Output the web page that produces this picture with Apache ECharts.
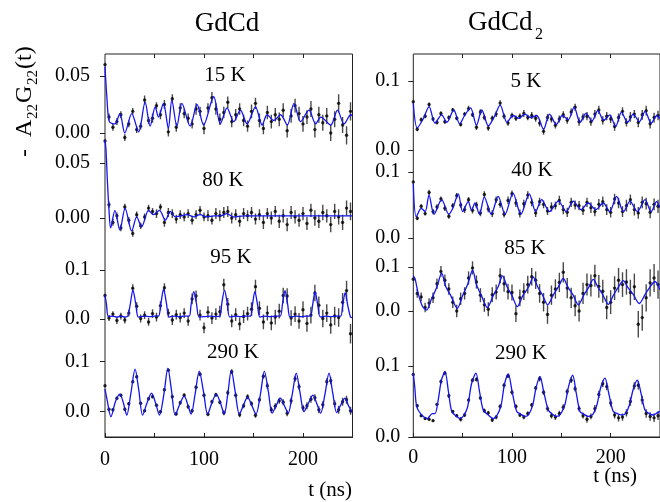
<!DOCTYPE html>
<html><head><meta charset="utf-8">
<script src="https://cdn.jsdelivr.net/npm/echarts@6/dist/echarts.min.js"></script>
<style>html,body{margin:0;padding:0;background:#fff}#c{width:660px;height:502px}</style>
</head><body><div id="c"></div><script>
// time channels (ns) of the data points
const tPts = [0,4,8,12,16,20,24,28,32,36,40,44,48,52,56,60,64,68,72,76,80,84,88,92,96,100,104,108,112,116,120,124,128,132,136,140,144,148,152,156,160,164,168,172,176,180,184,188,192,196,200,204,208,212,216,220,224,228,232,236,240,244,248];
const xTickLabels = [0,100,200];

// ---- GdCd 15 K ----
const fit15K = [[0,0.058],[2,0.03],[4.4,0.010],[10,0.008],[15,0.017],[20,0.000],[27,0.017],[34,0.001],[40.5,0.027],[45.6,0.006],[50.7,0.023],[54,0.014],[59,0.026],[64,0.004],[67.5,0.029],[72.6,0.006],[77.7,0.026],[86,0.006],[93,0.025],[99.6,0.007],[109.8,0.032],[116.5,0.008],[123.3,0.022],[130,0.010],[136.8,0.020],[143.5,0.008],[152,0.023],[158.7,0.007],[163.8,0.016],[170.6,0.011],[177.3,0.016],[184.1,0.007],[190.9,0.026],[197.6,0.010],[206,0.020],[212.8,0.008],[218,0.014],[228,0.007],[234.8,0.020],[241.5,0.008],[248.3,0.016],[250,0.015]];
const val15K = [0.060,0.014,0.005,0.010,0.016,-0.004,0.008,0.019,0.003,0.006,0.029,0.011,0.013,0.024,0.016,0.025,0.001,0.030,0.005,0.022,0.017,0.013,0.008,0.021,0.019,0.004,0.022,0.031,0.021,0.012,0.018,0.027,0.010,0.016,0.021,0.011,0.006,0.019,0.026,0.011,0.004,0.018,0.010,0.016,0.012,0.020,0.002,0.015,0.024,0.017,0.008,0.014,0.021,0.003,0.016,0.009,0.015,0.000,0.012,0.026,0.007,-0.002,0.019];
const err15K = [0.002,0.003,0.003,0.003,0.003,0.003,0.003,0.003,0.003,0.003,0.004,0.003,0.004,0.003,0.004,0.004,0.004,0.004,0.004,0.004,0.004,0.004,0.004,0.005,0.004,0.005,0.004,0.005,0.005,0.005,0.005,0.005,0.005,0.005,0.005,0.005,0.005,0.006,0.005,0.006,0.005,0.006,0.006,0.006,0.006,0.006,0.006,0.006,0.006,0.006,0.007,0.006,0.007,0.007,0.007,0.007,0.007,0.007,0.007,0.008,0.007,0.008,0.008];

// ---- GdCd 80 K ----
const fit80K = [[0,0.071],[1,0.062],[2.4,0.034],[4,0.008],[5.7,-0.009],[10,0.007],[15,-0.011],[20.3,0.009],[27,-0.012],[32,0.001],[37,-0.008],[44,0.007],[49,0.003],[55,0.007],[61,-0.002],[66,0.006],[71,0.001],[77,0.002],[83,0.003],[90,0.001],[96,0.003],[103,0.001],[110,0.002],[117,0.002],[123,0.004],[130,0.001],[140,0.002],[160,0.002],[200,0.002],[250,0.002]];
const val80K = [0.070,0.012,-0.004,0.002,-0.009,0.010,-0.002,-0.014,0.003,-0.007,0.001,0.009,0.006,0.004,0.010,-0.004,0.005,0.004,-0.001,0.003,0.001,0.004,-0.002,0.003,0.007,0.001,0.002,-0.002,0.004,0.002,0.005,0.006,0.000,0.003,-0.003,0.004,0.002,0.005,-0.001,0.003,-0.004,0.004,0.000,0.006,-0.003,0.002,-0.006,0.005,0.001,-0.002,0.004,-0.005,0.007,0.000,-0.003,0.005,0.002,-0.006,0.006,0.001,-0.004,0.009,0.006];
const err80K = [0.002,0.003,0.003,0.003,0.003,0.003,0.003,0.003,0.003,0.003,0.003,0.003,0.003,0.004,0.003,0.004,0.004,0.004,0.004,0.004,0.004,0.004,0.004,0.004,0.004,0.004,0.005,0.004,0.005,0.005,0.005,0.005,0.005,0.005,0.005,0.005,0.005,0.005,0.005,0.005,0.006,0.005,0.006,0.005,0.006,0.006,0.006,0.006,0.006,0.006,0.006,0.006,0.006,0.007,0.006,0.007,0.006,0.007,0.007,0.007,0.007,0.007,0.008];

// ---- GdCd 95 K ----
const fit95K = [[0,0.049],[1.5,0.030],[3.4,0.005],[8,0.006],[12,0.004],[16,0.006],[20,0.004],[23,0.006],[25.5,0.030],[28.2,0.059],[31,0.032],[33.8,0.004],[40,0.006],[45,0.005],[50,0.006],[54,0.006],[56.5,0.032],[59.2,0.061],[62,0.033],[64.8,0.004],[70,0.006],[75,0.005],[80,0.006],[85,0.006],[87,0.030],[89.7,0.056],[92.5,0.030],[95,0.004],[101,0.005],[106,0.006],[111,0.005],[116,0.006],[118,0.032],[120.7,0.059],[123.5,0.032],[126,0.004],[132,0.006],[137,0.005],[142,0.006],[147,0.006],[149,0.030],[151.4,0.056],[154,0.030],[156.5,0.004],[162,0.006],[167,0.005],[172,0.006],[177,0.006],[179.3,0.031],[181.8,0.058],[184.5,0.030],[187,0.004],[193,0.006],[198,0.005],[203,0.006],[207.5,0.006],[209.8,0.030],[212.2,0.056],[214.8,0.030],[217.5,0.004],[223,0.006],[228,0.005],[233,0.006],[238,0.006],[240.2,0.029],[242.6,0.054],[245.2,0.028],[248,0.004],[250,0.003]];
const val95K = [0.048,0.002,0.010,-0.003,0.006,-0.002,0.012,0.063,0.026,0.001,0.008,-0.006,0.011,0.004,0.027,0.064,0.012,-0.002,0.009,0.003,0.012,-0.004,0.041,0.047,0.008,-0.018,0.014,0.002,0.010,0.015,0.070,0.030,-0.004,0.009,-0.010,0.005,0.011,0.020,0.066,0.022,-0.006,0.012,-0.008,0.004,0.016,0.048,0.047,0.002,0.010,-0.004,0.019,-0.009,0.008,0.053,0.028,0.001,0.012,-0.012,0.006,0.003,0.034,0.058,-0.030];
const err95K = [0.004,0.006,0.006,0.007,0.007,0.007,0.007,0.008,0.008,0.008,0.008,0.008,0.009,0.009,0.009,0.009,0.009,0.010,0.010,0.010,0.010,0.010,0.011,0.011,0.011,0.011,0.012,0.012,0.012,0.012,0.012,0.013,0.013,0.013,0.013,0.013,0.014,0.014,0.014,0.014,0.015,0.015,0.015,0.015,0.015,0.016,0.016,0.016,0.016,0.016,0.017,0.017,0.017,0.017,0.018,0.018,0.018,0.018,0.019,0.019,0.019,0.020,0.020];

// ---- GdCd 290 K ----
const fit290a = [[0,0.045],[2,0.025],[6,-0.010],[10.5,0.020],[15,0.035],[18.5,0.018],[22,-0.007],[26,0.035],[30.4,0.085],[34,0.045],[38,-0.007],[42.5,0.018],[47,0.037],[51,0.018],[55,-0.007],[59.5,0.035],[63.5,0.087],[67,0.045],[70.9,-0.007],[75.5,0.015],[80,0.031],[83.5,0.015],[87,-0.005],[91,0.035],[95.2,0.081],[99.5,0.040],[103.6,-0.005],[108,0.018],[112.4,0.035],[116.5,0.018],[120.5,-0.005],[124,0.035],[127.6,0.083],[131.5,0.040],[135.7,-0.005],[140,0.014],[144,0.029],[148,0.014],[152.5,-0.005],[157,0.035],[161,0.081],[165,0.040],[168.8,-0.003],[173,0.013],[177.2,0.027],[181,0.013],[185,-0.003],[189,0.033],[193.2,0.077],[197,0.038],[201,0.000],[205.5,0.017],[210,0.033],[214,0.016],[217.8,-0.003],[222,0.033],[226.3,0.077],[230,0.038],[234,-0.002],[238,0.013],[242.4,0.027],[246,0.012],[250,-0.003]];
const val290a = [0.052,0.005,0.004,0.027,0.033,0.005,0.016,0.060,0.070,0.017,0.002,0.026,0.030,0.013,0.000,0.044,0.083,0.030,-0.004,0.018,0.033,0.010,0.002,0.049,0.075,0.033,-0.005,0.020,0.034,0.019,-0.002,0.038,0.080,0.033,-0.006,0.012,0.030,0.016,-0.007,0.024,0.071,0.052,0.004,0.011,0.022,0.019,-0.003,0.022,0.066,0.050,0.008,0.012,0.025,0.028,0.004,0.014,0.060,0.062,0.016,0.004,0.020,0.024,0.002];
const err290a = [0.002,0.003,0.003,0.003,0.003,0.003,0.003,0.003,0.003,0.003,0.003,0.003,0.003,0.003,0.003,0.003,0.003,0.004,0.004,0.004,0.004,0.004,0.004,0.004,0.004,0.004,0.004,0.004,0.004,0.004,0.005,0.005,0.005,0.005,0.005,0.005,0.005,0.005,0.005,0.005,0.005,0.006,0.006,0.006,0.006,0.006,0.006,0.006,0.006,0.006,0.006,0.007,0.007,0.007,0.007,0.007,0.007,0.007,0.007,0.008,0.008,0.008,0.008];

// ---- GdCd2 5 K ----
const fit5K = [[0,0.068],[4,0.032],[10,0.045],[16,0.063],[22,0.039],[28.7,0.051],[34,0.040],[41,0.058],[47,0.038],[52,0.050],[58,0.061],[64,0.036],[69.5,0.058],[76,0.035],[82,0.048],[88,0.065],[95,0.040],[101,0.050],[107,0.046],[113,0.052],[119,0.047],[125,0.050],[132,0.030],[138,0.052],[145,0.037],[151,0.050],[157,0.044],[163,0.062],[169,0.040],[175,0.053],[181,0.042],[187,0.057],[193,0.043],[199,0.051],[205,0.034],[211,0.055],[217,0.040],[223,0.052],[229,0.041],[235,0.056],[241,0.039],[247,0.050],[250,0.045]];
const val5K = [0.070,0.030,0.044,0.049,0.066,0.045,0.040,0.053,0.041,0.047,0.058,0.046,0.037,0.052,0.060,0.051,0.033,0.055,0.047,0.032,0.046,0.052,0.068,0.049,0.039,0.050,0.046,0.049,0.053,0.047,0.050,0.046,0.039,0.027,0.047,0.045,0.036,0.045,0.051,0.043,0.055,0.062,0.041,0.048,0.049,0.041,0.052,0.058,0.043,0.049,0.045,0.034,0.047,0.056,0.040,0.048,0.052,0.040,0.051,0.057,0.038,0.047,0.050];
const err5K = [0.002,0.003,0.003,0.003,0.003,0.003,0.003,0.003,0.003,0.003,0.003,0.003,0.003,0.003,0.004,0.003,0.004,0.004,0.004,0.004,0.004,0.004,0.004,0.004,0.004,0.004,0.004,0.004,0.005,0.004,0.005,0.005,0.005,0.005,0.005,0.005,0.005,0.005,0.005,0.005,0.005,0.005,0.006,0.005,0.006,0.006,0.006,0.006,0.006,0.006,0.006,0.006,0.006,0.006,0.006,0.007,0.006,0.007,0.007,0.007,0.007,0.007,0.007];

// ---- GdCd2 40 K ----
const fit40K = [[0,0.083],[3,0.032],[8,0.045],[12,0.040],[15.9,0.065],[21,0.036],[28.7,0.058],[36,0.036],[40,0.045],[45.6,0.067],[50,0.040],[55.7,0.055],[59,0.042],[62.5,0.053],[67,0.036],[72,0.062],[79,0.036],[86,0.063],[93,0.036],[101,0.068],[109,0.036],[117.5,0.067],[124,0.040],[130,0.058],[138,0.040],[147,0.056],[155,0.040],[162,0.056],[170,0.043],[177.3,0.053],[185,0.043],[192.5,0.053],[199,0.040],[206,0.063],[213,0.040],[219.6,0.056],[227,0.040],[234.8,0.058],[241,0.040],[246.6,0.055],[250,0.046]];
const val40K = [0.085,0.030,0.048,0.037,0.069,0.040,0.047,0.059,0.045,0.033,0.049,0.064,0.050,0.043,0.058,0.042,0.050,0.038,0.066,0.044,0.037,0.058,0.051,0.036,0.057,0.067,0.053,0.037,0.052,0.065,0.054,0.038,0.055,0.051,0.041,0.047,0.049,0.057,0.043,0.039,0.054,0.050,0.049,0.042,0.054,0.046,0.040,0.051,0.055,0.043,0.039,0.059,0.053,0.040,0.049,0.058,0.043,0.038,0.054,0.052,0.039,0.051,0.048];
const err40K = [0.003,0.003,0.003,0.003,0.004,0.004,0.004,0.004,0.004,0.004,0.004,0.004,0.004,0.005,0.004,0.005,0.005,0.005,0.005,0.005,0.005,0.005,0.005,0.005,0.006,0.005,0.006,0.006,0.006,0.006,0.006,0.006,0.006,0.006,0.006,0.007,0.006,0.007,0.007,0.007,0.007,0.007,0.007,0.007,0.007,0.008,0.007,0.008,0.008,0.008,0.008,0.008,0.008,0.008,0.009,0.008,0.009,0.009,0.009,0.009,0.009,0.009,0.010];

// ---- GdCd2 85 K ----
const fit85K = [[0,0.080],[1.7,0.074],[5,0.040],[9,0.012],[13.5,0.002],[18,0.025],[24,0.055],[28.7,0.086],[33,0.055],[38,0.035],[44.6,0.006],[50,0.035],[55,0.060],[60.1,0.093],[64,0.060],[69,0.035],[75,0.008],[81,0.035],[86,0.055],[90.5,0.080],[95,0.055],[100,0.035],[105.4,0.010],[111,0.035],[117,0.055],[121.6,0.077],[126,0.055],[131,0.036],[136.1,0.014],[142,0.037],[147,0.055],[152,0.074],[156.5,0.055],[162,0.036],[167.2,0.014],[173,0.037],[178,0.055],[182.4,0.072],[187,0.055],[192,0.037],[197.6,0.015],[203,0.037],[208,0.055],[212.8,0.069],[217,0.055],[223,0.037],[229,0.017],[235,0.038],[240,0.055],[244.9,0.067],[250,0.048]];
const val85K = [0.072,0.040,0.032,0.008,0.018,0.030,0.062,0.090,0.070,0.050,0.020,0.000,0.028,0.040,0.075,0.098,0.066,0.036,0.014,0.004,0.037,0.043,0.080,0.062,0.044,0.042,-0.006,0.030,0.044,0.060,0.078,0.070,0.040,0.020,-0.008,0.036,0.050,0.065,0.088,0.052,0.030,0.012,0.000,0.040,0.060,0.058,0.080,0.056,0.045,0.008,0.020,0.052,0.070,0.060,0.066,0.042,0.055,-0.030,-0.015,0.030,0.064,0.075,0.060];
const err85K = [0.008,0.010,0.010,0.011,0.011,0.012,0.012,0.012,0.013,0.013,0.013,0.014,0.014,0.014,0.015,0.015,0.015,0.016,0.016,0.016,0.017,0.017,0.017,0.018,0.018,0.018,0.019,0.019,0.019,0.020,0.020,0.020,0.021,0.021,0.021,0.022,0.022,0.022,0.023,0.023,0.023,0.024,0.024,0.024,0.025,0.025,0.025,0.026,0.026,0.027,0.027,0.027,0.028,0.028,0.029,0.029,0.030,0.030,0.030,0.031,0.031,0.032,0.032];

// ---- GdCd2 290 K ----
const fit290b = [[0,0.090],[1.5,0.070],[3.4,0.043],[7.4,0.033],[14.1,0.026],[19.2,0.033],[22,0.033],[25,0.050],[28.5,0.080],[32.1,0.092],[35.5,0.065],[38.9,0.036],[43,0.030],[47.3,0.026],[51,0.030],[55,0.042],[59,0.075],[63.5,0.090],[67,0.065],[70.9,0.038],[76,0.031],[81,0.026],[85,0.031],[89,0.045],[92.5,0.075],[96.3,0.089],[100,0.065],[104.8,0.036],[109,0.032],[113.3,0.029],[117,0.032],[121,0.045],[124.5,0.070],[128.4,0.085],[132,0.065],[136.8,0.038],[141,0.032],[145.2,0.029],[149,0.032],[153.5,0.045],[157.5,0.072],[161.5,0.087],[165,0.063],[168.9,0.036],[173,0.032],[177.3,0.029],[182,0.032],[186,0.045],[190,0.070],[194.2,0.083],[198,0.062],[202.6,0.036],[207,0.033],[211,0.031],[215,0.033],[219,0.045],[223,0.068],[227,0.080],[231,0.060],[234.8,0.038],[239,0.033],[243.2,0.031],[247,0.034],[250,0.036]];
const val290b = [0.088,0.044,0.030,0.026,0.025,0.023,0.046,0.078,0.090,0.058,0.036,0.030,0.025,0.031,0.052,0.080,0.081,0.055,0.037,0.034,0.024,0.028,0.043,0.073,0.086,0.063,0.043,0.031,0.028,0.033,0.045,0.069,0.082,0.063,0.040,0.030,0.028,0.033,0.042,0.064,0.080,0.068,0.040,0.030,0.025,0.029,0.040,0.060,0.075,0.071,0.048,0.031,0.027,0.028,0.034,0.050,0.072,0.073,0.052,0.033,0.029,0.027,0.030];
const err290b = [0.002,0.002,0.002,0.002,0.002,0.002,0.002,0.003,0.003,0.003,0.002,0.002,0.003,0.003,0.003,0.003,0.003,0.003,0.003,0.003,0.003,0.003,0.003,0.003,0.003,0.003,0.003,0.003,0.003,0.003,0.003,0.003,0.004,0.004,0.004,0.004,0.004,0.004,0.004,0.004,0.004,0.004,0.004,0.004,0.005,0.004,0.005,0.005,0.005,0.005,0.005,0.005,0.005,0.005,0.005,0.006,0.005,0.006,0.006,0.006,0.006,0.006,0.006];

// ---------------- layout / style ----------------
const FONT = '"Liberation Serif", "Times New Roman", serif';
const cols = [{left:105, width:247.5}, {left:413.3, width:246.7}];
const panels = [
  {col:0, zero:133,   ppu:1140, min:-0.015, max:0.075, ticks:[0,0.05], dec:2, label:'15 K',  lx:225, ly:75,  fit:fit15K,  val:val15K,  err:err15K},
  {col:0, zero:218,   ppu:1100, min:-0.025, max:0.075, ticks:[0,0.05], dec:2, label:'80 K',  lx:223, ly:180, fit:fit80K,  val:val80K,  err:err80K},
  {col:0, zero:319,   ppu:490,  min:-0.055, max:0.13,  ticks:[0,0.1],  dec:1, label:'95 K',  lx:231, ly:257, fit:fit95K,  val:val95K,  err:err95K},
  {col:0, zero:411.7, ppu:500,  min:-0.05,  max:0.14,  ticks:[0,0.1],  dec:1, label:'290 K', lx:233, ly:352, fit:fit290a, val:val290a, err:err290a},
  {col:1, zero:150,   ppu:690,  min:-0.01,  max:0.14,  ticks:[0,0.1],  dec:1, label:'5 K',   lx:526, ly:81,  fit:fit5K,   val:val5K,   err:err5K},
  {col:1, zero:238,   ppu:660,  min:-0.01,  max:0.13,  ticks:[0,0.1],  dec:1, label:'40 K',  lx:532, ly:170, fit:fit40K,  val:val40K,  err:err40K},
  {col:1, zero:311,   ppu:440,  min:-0.075, max:0.15,  ticks:[0,0.1],  dec:1, label:'85 K',  lx:525, ly:248, fit:fit85K,  val:val85K,  err:err85K},
  {col:1, zero:437,   ppu:710,  min:0,      max:0.13,  ticks:[0,0.1],  dec:1, label:'290 K', lx:521, ly:353, fit:fit290b, val:val290b, err:err290b}
];

const grid = [], xAxis = [], yAxis = [], series = [], graphic = [];
panels.forEach((p, i) => {
  const c = cols[p.col];
  grid.push({left:c.left, width:c.width, top:p.zero - p.max*p.ppu, height:(p.max - p.min)*p.ppu,
             outerBoundsMode:'none', containLabel:false, show:false});
  xAxis.push({gridIndex:i, type:'value', min:0, max:250, show:false});
  yAxis.push({gridIndex:i, type:'value', min:p.min, max:p.max,
    axisLine:{show:false}, splitLine:{show:false},
    axisTick:{show:true, inside:false, length:5, customValues:p.ticks, lineStyle:{color:'#222', width:1}},
    axisLabel:{show:true, customValues:p.ticks, margin:p.col===0?15:13, formatter:v=>Number(v).toFixed(p.dec),
               fontFamily:FONT, fontSize:20, color:'#000'}});
  const n = Math.min(tPts.length, p.val.length, p.err.length);
  const ebar = [], pts = [];
  for (let k = 0; k < n; k++) {
    ebar.push([tPts[k], p.val[k] - p.err[k], p.val[k] + p.err[k]]);
    pts.push([tPts[k], p.val[k]]);
  }
  series.push({type:'custom', xAxisIndex:i, yAxisIndex:i, clip:true, silent:true, z:2,
    encode:{x:0, y:[1,2]}, data:ebar,
    renderItem:(params, api) => {
      const a = api.coord([api.value(0), api.value(1)]);
      const b = api.coord([api.value(0), api.value(2)]);
      return {type:'line', shape:{x1:a[0], y1:a[1], x2:b[0], y2:b[1]}, style:{stroke:'#4a4a4a', lineWidth:1.4}};
    }});
  series.push({type:'scatter', xAxisIndex:i, yAxisIndex:i, data:pts, symbol:'circle', symbolSize:3.4,
    itemStyle:{color:'#000'}, z:3, silent:true});
  series.push({type:'line', xAxisIndex:i, yAxisIndex:i, data:p.fit, showSymbol:false, smooth:0.3,
    lineStyle:{color:'#1414f0', width:1.3}, z:4, silent:true});
  graphic.push({type:'text', x:p.lx, y:p.ly, style:{text:p.label, font:'21px ' + FONT, fill:'#000', align:'center', verticalAlign:'middle'}});
});

// column frames with shared time axes
cols.forEach((c, j) => {
  const gi = panels.length + j;
  grid.push({left:c.left, width:c.width, top:54, height:383, show:true, borderColor:'#222', borderWidth:1,
             backgroundColor:'transparent', outerBoundsMode:'none', containLabel:false});
  xAxis.push({gridIndex:gi, type:'value', position:'bottom', min:0, max:250, interval:50,
    axisLine:{show:true, lineStyle:{color:'#222', width:1}}, splitLine:{show:false},
    axisTick:{show:true, inside:true, length:4, customValues:[0,50,100,150,200,250], lineStyle:{color:'#222'}},
    axisLabel:{show:true, customValues:xTickLabels, margin:j===0?13:11, fontFamily:FONT, fontSize:20, color:'#000'}});
  xAxis.push({gridIndex:gi, type:'value', position:'top', min:0, max:250, interval:50,
    axisLine:{show:false}, splitLine:{show:false}, axisLabel:{show:false},
    axisTick:{show:true, inside:true, length:4, customValues:[50,100,150,200], lineStyle:{color:'#222'}}});
  yAxis.push({gridIndex:gi, type:'value', min:0, max:1, show:false});
});

// titles and axis names
graphic.push({type:'text', x:227, y:24, style:{text:'GdCd', font:'27px ' + FONT, fill:'#000', align:'center', verticalAlign:'middle'}});
graphic.push({type:'text', x:468, y:23, style:{text:'GdCd', font:'27px ' + FONT, fill:'#000', align:'left', verticalAlign:'middle'}});
graphic.push({type:'text', x:535, y:35, style:{text:'2', font:'16px ' + FONT, fill:'#000', align:'left', verticalAlign:'middle'}});
graphic.push({type:'text', x:352, y:490, style:{text:'t (ns)', font:'21px ' + FONT, fill:'#000', align:'right', verticalAlign:'middle'}});
graphic.push({type:'text', x:615, y:476, style:{text:'t (ns)', font:'21px ' + FONT, fill:'#000', align:'center', verticalAlign:'middle'}});
const R = Math.PI / 2;
[['-', 25, 157, 24], ['A', 25, 137, 24], ['22', 33, 119, 15], ['G', 25, 103, 24], ['22', 33, 85, 15], ['(t)', 25, 69, 24]]
  .forEach(([s, x, y, fs]) => graphic.push({type:'text', x:x, y:y, rotation:R,
    style:{text:s, font:fs + 'px ' + FONT, fill:'#000', align:'left', verticalAlign:'middle'}}));

const chart = echarts.init(document.getElementById('c'), null, {renderer:'canvas'});
chart.setOption({animation:false, backgroundColor:'#fff', grid, xAxis, yAxis, series, graphic});
</script></body></html>
